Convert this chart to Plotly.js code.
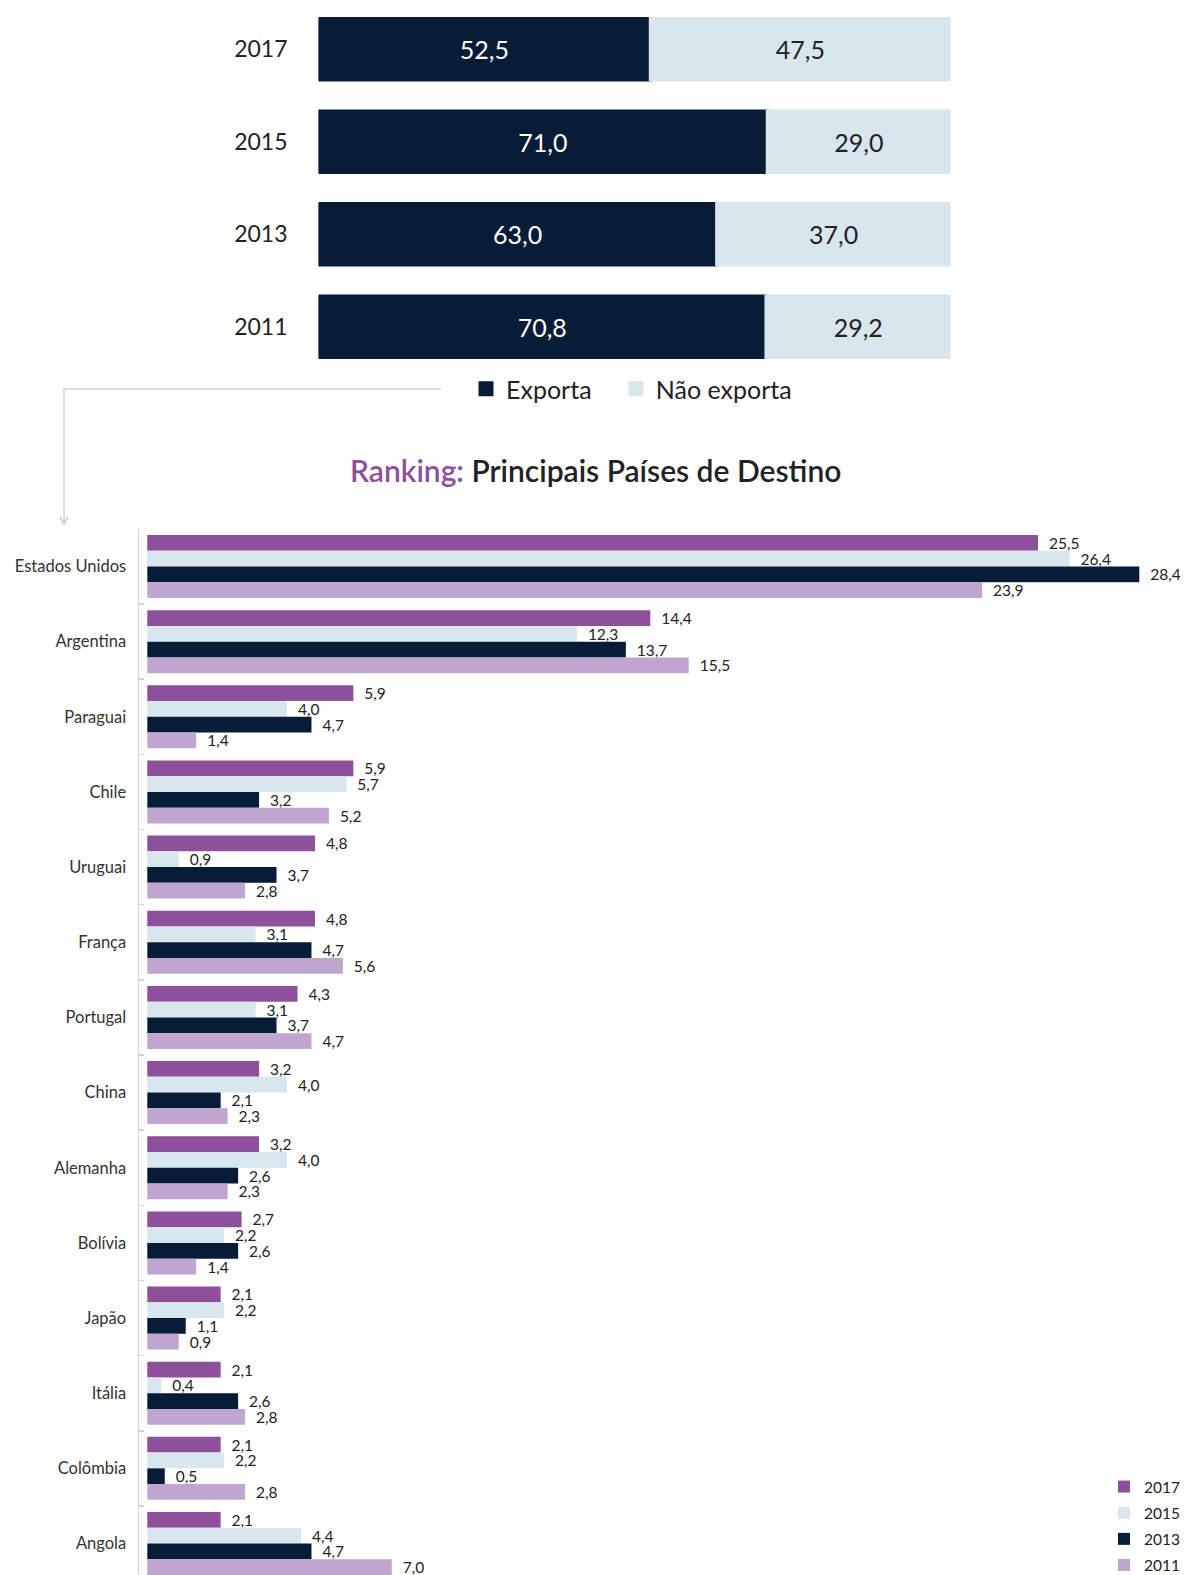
<!DOCTYPE html>
<html>
<head>
<meta charset="utf-8">
<script src="https://cdn.plot.ly/plotly-3.0.1.min.js"></script>
<style>
html, body { margin:0; padding:0; overflow:hidden; background:#ffffff; }
#chart { width:1184px; height:1600px; }
</style>
</head>
<body>
<div id="chart"></div>
<script>
// ---- Top chart data (share of companies, %) ----
const years = ["2017", "2015", "2013", "2011"];
const exporta = [52.5, 71.0, 63.0, 70.8];
const naoExporta = [47.5, 29.0, 37.0, 29.2];

// ---- Ranking data (% by destination country) ----
const countries = ["Estados Unidos", "Argentina", "Paraguai", "Chile", "Uruguai", "França", "Portugal",
  "China", "Alemanha", "Bolívia", "Japão", "Itália", "Colômbia", "Angola"];
const v2017 = [25.5, 14.4, 5.9, 5.9, 4.8, 4.8, 4.3, 3.2, 3.2, 2.7, 2.1, 2.1, 2.1, 2.1];
const v2015 = [26.4, 12.3, 4.0, 5.7, 0.9, 3.1, 3.1, 4.0, 4.0, 2.2, 2.2, 0.4, 2.2, 4.4];
const v2013 = [28.4, 13.7, 4.7, 3.2, 3.7, 4.7, 3.7, 2.1, 2.6, 2.6, 1.1, 2.6, 0.5, 4.7];
const v2011 = [23.9, 15.5, 1.4, 5.2, 2.8, 5.6, 4.7, 2.3, 2.3, 1.4, 0.9, 2.8, 2.8, 7.0];

const W = 1184, H = 1600;
const px = x => x / W;
const py = y => 1 - y / H;
const FONT = "Lato, 'Open Sans', sans-serif";
const fmt = v => v.toFixed(1).replace('.', ',');

const C2017 = "#8E4F9B", C2015 = "#D8E6EE", C2013 = "#071C36", C2011 = "#C0A6CF";

const traces = [
  {
    type: "bar", orientation: "h", name: "Exporta\u00a0\u00a0\u00a0",
    x: exporta, y: years, xaxis: "x", yaxis: "y",
    offsetgroup: "top", width: 0.667,
    marker: { color: C2013, line: { color: C2013, width: 3 } },
    text: exporta.map(fmt), textposition: "inside", insidetextanchor: "middle",
    constraintext: "none",
    textfont: { family: FONT, size: 25, color: "#ffffff" },
    legend: "legend", hoverinfo: "skip"
  },
  {
    type: "bar", orientation: "h", name: "Não exporta",
    x: naoExporta, y: years, base: exporta, xaxis: "x", yaxis: "y",
    offsetgroup: "top", width: 0.667,
    marker: { color: C2015, line: { color: C2015, width: 3 } },
    text: naoExporta.map(fmt), textposition: "inside", insidetextanchor: "middle",
    constraintext: "none",
    textfont: { family: FONT, size: 25, color: "#222222" },
    legend: "legend", hoverinfo: "skip"
  }
];

const series = [
  ["2017", v2017, C2017],
  ["2015", v2015, C2015],
  ["2013", v2013, C2013],
  ["2011", v2011, C2011]
];
series.forEach(([nm, vals, col]) => {
  traces.push({
    type: "bar", orientation: "h", name: nm,
    x: vals, y: countries, xaxis: "x2", yaxis: "y2",
    legendgroup: "g" + nm,
    marker: { color: col },
    texttemplate: "\u00a0\u00a0%{x:.1f}", textposition: "outside",
    constraintext: "none", cliponaxis: false,
    textfont: { family: FONT, size: 15.5, color: "#222222" },
    legend: "legend2", hoverinfo: "skip"
  });
});

const layout = {
  width: W, height: H,
  margin: { l: 0, r: 0, t: 0, b: 0, autoexpand: false },
  paper_bgcolor: "#ffffff", plot_bgcolor: "rgba(0,0,0,0)",
  separators: ",.",
  barmode: "group", bargap: 0.162, bargroupgap: 0,
  font: { family: FONT, color: "#222222" },
  showlegend: true,
  xaxis: {
    domain: [px(318.5), px(950.5)], range: [0, 100], anchor: "y",
    showgrid: false, zeroline: false, showline: false, showticklabels: false, fixedrange: true
  },
  yaxis: {
    domain: [py(373), py(3)], type: "category", autorange: "reversed", anchor: "x",
    showgrid: false, zeroline: false, showline: false, ticks: "",
    ticklabelstandoff: 30,
    tickfont: { family: FONT, size: 23, color: "#222222" }
  },
  xaxis2: {
    domain: [px(139), 1], range: [-8.3 / 34.93, (1184 - 147.3) / 34.93], anchor: "y2",
    showgrid: false, zeroline: false, showline: false, showticklabels: false, fixedrange: true
  },
  yaxis2: {
    domain: [py(1581.1), py(528.9)], type: "category", autorange: "reversed", anchor: "x2",
    showgrid: false, zeroline: false,
    showline: true, linecolor: "#d4d4d4", linewidth: 1.5,
    ticks: "inside", tickson: "boundaries", ticklen: 5, tickcolor: "#d4d4d4", tickwidth: 1.5,
    ticklabelstandoff: 8,
    tickfont: { family: FONT, size: 16.5, color: "#333333" }
  },
  legend: {
    orientation: "h", x: px(466), xanchor: "left", y: py(366), yanchor: "top",
    font: { family: FONT, size: 25, color: "#222222" },
    bgcolor: "rgba(0,0,0,0)", traceorder: "normal"
  },
  legend2: {
    orientation: "v", x: px(1104), xanchor: "left", y: py(1470), yanchor: "top",
    font: { family: FONT, size: 15.5, color: "#222222" },
    tracegroupgap: 3, traceorder: "grouped",
    bgcolor: "rgba(0,0,0,0)"
  },
  shapes: [
    { type: "path", xref: "paper", yref: "paper",
      path: `M ${px(441)} ${py(389)} L ${px(64)} ${py(389)} L ${px(64)} ${py(524)}`,
      line: { color: "#d4d4d4", width: 1.5 } },
    { type: "path", xref: "paper", yref: "paper",
      path: `M ${px(60)} ${py(517)} L ${px(64)} ${py(524)} L ${px(68)} ${py(517)}`,
      line: { color: "#d4d4d4", width: 2 } }
  ],
  annotations: [
    { xref: "paper", yref: "paper", x: px(595), y: py(470), xanchor: "center", yanchor: "middle",
      showarrow: false,
      text: "<span style='color:#8E4F9B'>Ranking:</span> Principais Países de Destino",
      font: { family: FONT, size: 30, color: "#222222", weight: 600 } }
  ]
};

Plotly.newPlot("chart", traces, layout, { displayModeBar: false, staticPlot: true });
</script>
</body>
</html>
